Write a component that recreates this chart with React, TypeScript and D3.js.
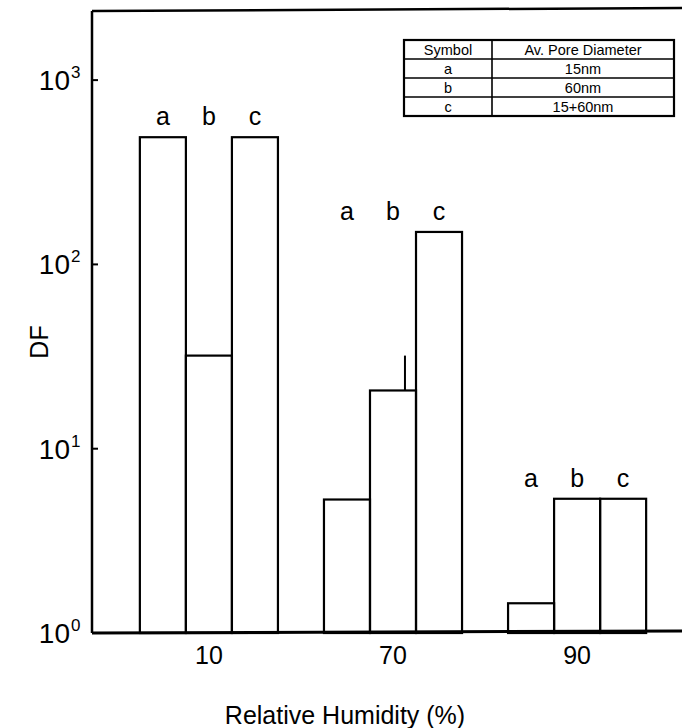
import React from 'react';
import * as d3 from 'd3';

// values
const humidity = ['10', '70', '90'];
const symbols = ['a', 'b', 'c'];
const dfA = [490, 5.3, 1.45];
const dfB = [32, 20.7, 5.35];
const dfC = [490, 150, 5.35];
const errTopB = [null, 32, null]; // little spike on 70% b bar
const yTicks = [1, 10, 100, 1000];
const yExp = ['0', '1', '2', '3'];

const tableHead = ['Symbol', 'Av. Pore Diameter'];
const tableSymbols = ['a', 'b', 'c'];
const poreDiameters = ['15nm', '60nm', '15+60nm'];

const W = 682;
const H = 728;
const left = 92;
const top = 11;
const bottom = 633;
const font = '"Liberation Sans", Arial, Helvetica, sans-serif';

export default function App() {
    const y = d3.scaleLog().domain([1, Math.pow(10, 3.375)]).range([bottom, top]);
    const x = d3.scaleBand<string>().domain(humidity).range([left, 694]).paddingInner(0.25).paddingOuter(0.26);
    const xs = d3.scaleBand<string>().domain(symbols).range([0, x.bandwidth()]);
    const series = [dfA, dfB, dfC];

    // table geometry
    const tx0 = 404, tx1 = 492, tx2 = 674, ty0 = 40, rowH = 19;

    return (
        <svg width={W} height={H} style={{ position: 'absolute', left: 0, top: 0, background: '#fff' }}
            fontFamily={font}>
            <rect x={0} y={0} width={W} height={H} fill="#fff" />

            {/* bars */}
            {humidity.map((h, gi) => (
                <g key={h} transform={`translate(${x(h)},0)`}>
                    {symbols.map((s, si) => {
                        const v = series[si][gi];
                        return (
                            <rect key={s} x={xs(s)} y={y(v)} width={xs.bandwidth()} height={bottom - y(v)}
                                fill="none" stroke="#000" strokeWidth={2.2} />
                        );
                    })}
                    {errTopB[gi] != null && (
                        <line x1={(xs('b') ?? 0) + xs.bandwidth() * 0.76} x2={(xs('b') ?? 0) + xs.bandwidth() * 0.76}
                            y1={y(dfB[gi])} y2={y(errTopB[gi] as number)} stroke="#000" strokeWidth={2} />
                    )}
                    {symbols.map((s) => {
                        const vmax = d3.max(series, (d) => d[gi]) as number;
                        return (
                            <text key={s} x={(xs(s) ?? 0) + xs.bandwidth() / 2} y={y(vmax) - 12}
                                textAnchor="middle" fontSize={25}>{s}</text>
                        );
                    })}
                    <text x={x.bandwidth() / 2} y={bottom + 31} textAnchor="middle" fontSize={25}>{h}</text>
                </g>
            ))}

            {/* frame */}
            <line x1={left} x2={W} y1={top} y2={top - 3} stroke="#000" strokeWidth={2.5} />
            <line x1={left} x2={left} y1={top} y2={bottom} stroke="#000" strokeWidth={2.5} />
            <line x1={left} x2={W} y1={bottom} y2={bottom - 2} stroke="#000" strokeWidth={3} />

            {/* y ticks */}
            {yTicks.map((t, i) => (
                <g key={t}>
                    <line x1={left} x2={left + 6} y1={y(t)} y2={y(t)} stroke="#000" strokeWidth={2} />
                    <text x={left - 22} y={y(t) + 10} textAnchor="end" fontSize={28}>10</text>
                    <text x={left - 21} y={y(t) - 2} textAnchor="start" fontSize={17}>{yExp[i]}</text>
                </g>
            ))}

            {/* axis titles */}
            <text transform={`translate(48,${(top + bottom) / 2 + 20}) rotate(-90)`} textAnchor="middle" fontSize={25}>DF</text>
            <text x={345} y={724} textAnchor="middle" fontSize={25}>Relative Humidity (%)</text>

            {/* legend table */}
            <g fontSize={14.5}>
                <rect x={tx0} y={ty0} width={tx2 - tx0} height={rowH * 4} fill="#fff" stroke="#000" strokeWidth={2.2} />
                {[1, 2, 3].map((r) => (
                    <line key={r} x1={tx0} x2={tx2} y1={ty0 + rowH * r} y2={ty0 + rowH * r} stroke="#000" strokeWidth={1.6} />
                ))}
                <line x1={tx1} x2={tx1} y1={ty0} y2={ty0 + rowH * 4} stroke="#000" strokeWidth={1.6} />
                <text x={(tx0 + tx1) / 2} y={ty0 + rowH / 2 + 5} textAnchor="middle">{tableHead[0]}</text>
                <text x={(tx1 + tx2) / 2} y={ty0 + rowH / 2 + 5} textAnchor="middle">{tableHead[1]}</text>
                {tableSymbols.map((s, i) => (
                    <g key={s}>
                        <text x={(tx0 + tx1) / 2} y={ty0 + rowH * (i + 1.5) + 5} textAnchor="middle">{s}</text>
                        <text x={(tx1 + tx2) / 2} y={ty0 + rowH * (i + 1.5) + 5} textAnchor="middle">{poreDiameters[i]}</text>
                    </g>
                ))}
            </g>
        </svg>
    );
}
